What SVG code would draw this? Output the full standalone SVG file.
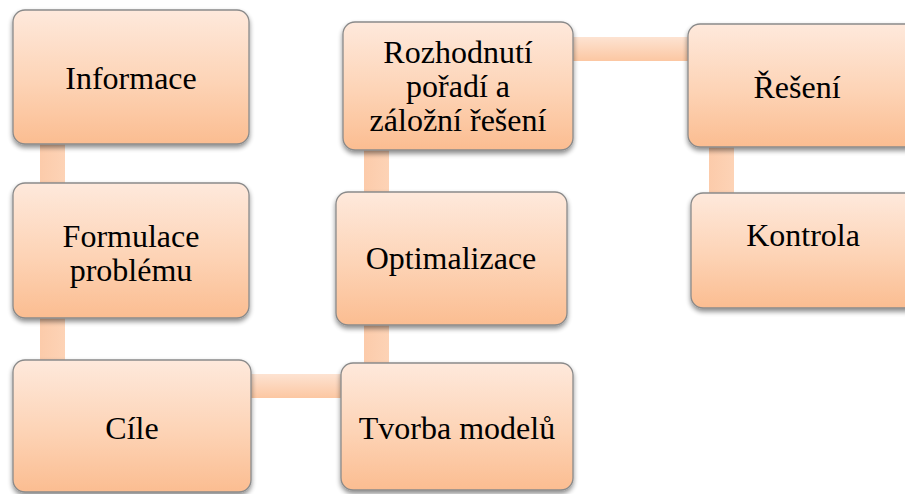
<svg xmlns="http://www.w3.org/2000/svg" width="905" height="494" viewBox="0 0 905 494">
<defs>
<linearGradient id="g" x1="0" y1="0" x2="0" y2="1">
<stop offset="0" stop-color="#fee9dc"/>
<stop offset="0.55" stop-color="#fdd3b5"/>
<stop offset="1" stop-color="#fbbd91"/>
</linearGradient>
<linearGradient id="cv" x1="0" y1="0" x2="1" y2="0">
<stop offset="0" stop-color="#fccbaa"/>
<stop offset="1" stop-color="#fdd3b6"/>
</linearGradient>
<linearGradient id="ch" x1="0" y1="0" x2="0" y2="1">
<stop offset="0" stop-color="#fde3d2"/>
<stop offset="1" stop-color="#fcc7a2"/>
</linearGradient>
<filter id="sh" x="-10%" y="-10%" width="120%" height="130%">
<feGaussianBlur in="SourceAlpha" stdDeviation="2.5"/>
<feOffset dx="0" dy="3" result="b"/>
<feComponentTransfer><feFuncA type="linear" slope="0.45"/></feComponentTransfer>
<feMerge><feMergeNode/><feMergeNode in="SourceGraphic"/></feMerge>
</filter>
<rect id="bx" rx="12" fill="url(#g)" stroke="#8a8a8a" stroke-width="1.3"/>
</defs>
<g id="connectors">
<rect fill="url(#cv)" x="40" y="140" width="25" height="48"/>
<rect fill="url(#cv)" x="40" y="314" width="25" height="50"/>
<rect fill="url(#ch)" x="247" y="374" width="98" height="24"/>
<rect fill="url(#cv)" x="364" y="320" width="25" height="47"/>
<rect fill="url(#cv)" x="364" y="146" width="25" height="50"/>
<rect fill="url(#ch)" x="569" y="37" width="123" height="24"/>
<rect fill="url(#cv)" x="709" y="143" width="25" height="54"/>
</g>
<g id="n-informace">
<rect filter="url(#sh)" fill="url(#g)" stroke="#8a8a8a" stroke-width="1.3" rx="12" x="13" y="10" width="236" height="134"/>
<text x="131" y="89" font-family="Liberation Serif" font-size="32" text-anchor="middle">Informace</text>
</g>
<g id="n-formulace">
<rect filter="url(#sh)" fill="url(#g)" stroke="#8a8a8a" stroke-width="1.3" rx="12" x="13" y="183" width="236" height="135"/>
<text x="131" y="247" font-family="Liberation Serif" font-size="32" text-anchor="middle">Formulace</text>
<text x="131" y="281" font-family="Liberation Serif" font-size="32" text-anchor="middle">problému</text>
</g>
<g id="n-cile">
<rect filter="url(#sh)" fill="url(#g)" stroke="#8a8a8a" stroke-width="1.3" rx="12" x="13" y="360" width="238" height="132"/>
<text x="132" y="439" font-family="Liberation Serif" font-size="32" text-anchor="middle">Cíle</text>
</g>
<g id="n-tvorba">
<rect filter="url(#sh)" fill="url(#g)" stroke="#8a8a8a" stroke-width="1.3" rx="12" x="341" y="363" width="232" height="127"/>
<text x="457" y="439" font-family="Liberation Serif" font-size="32" text-anchor="middle">Tvorba modelů</text>
</g>
<g id="n-optimalizace">
<rect filter="url(#sh)" fill="url(#g)" stroke="#8a8a8a" stroke-width="1.3" rx="12" x="336" y="192" width="231" height="133"/>
<text x="451" y="269" font-family="Liberation Serif" font-size="32" text-anchor="middle">Optimalizace</text>
</g>
<g id="n-rozhodnuti">
<rect filter="url(#sh)" fill="url(#g)" stroke="#8a8a8a" stroke-width="1.3" rx="12" x="343" y="22" width="230" height="128"/>
<text x="458" y="63" font-family="Liberation Serif" font-size="32" text-anchor="middle">Rozhodnutí</text>
<text x="458" y="97" font-family="Liberation Serif" font-size="32" text-anchor="middle">pořadí a</text>
<text x="458" y="131" font-family="Liberation Serif" font-size="32" text-anchor="middle">záložní řešení</text>
</g>
<g id="n-reseni">
<rect filter="url(#sh)" fill="url(#g)" stroke="#8a8a8a" stroke-width="1.3" rx="12" x="688" y="24" width="232" height="123"/>
<text x="797" y="98" font-family="Liberation Serif" font-size="32" text-anchor="middle">Řešení</text>
</g>
<g id="n-kontrola">
<rect filter="url(#sh)" fill="url(#g)" stroke="#8a8a8a" stroke-width="1.3" rx="12" x="691" y="193" width="230" height="115"/>
<text x="803" y="246" font-family="Liberation Serif" font-size="32" text-anchor="middle">Kontrola</text>
</g>
</svg>
